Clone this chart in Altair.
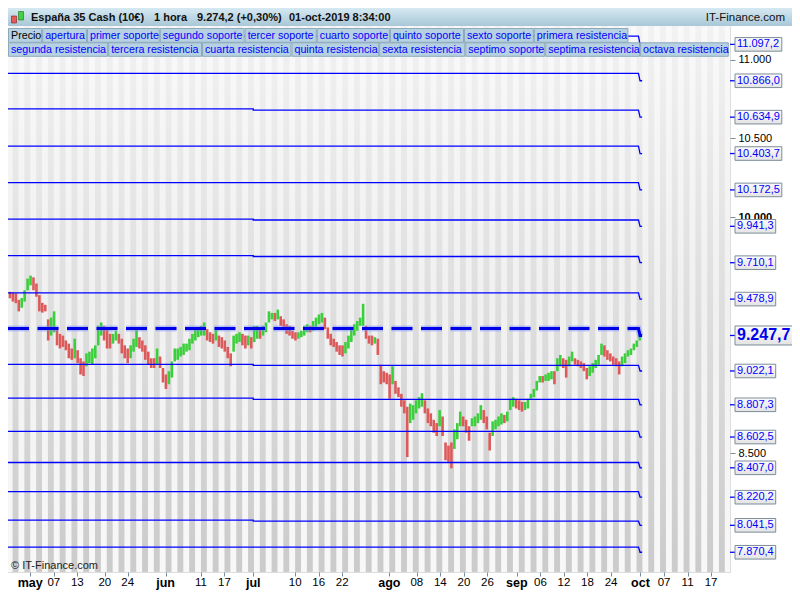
import altair as alt
import pandas as pd

# ---------------- data ----------------
header_parts = ["España 35 Cash (10€)", "1 hora", "9.274,2 (+0,30%)", "01-oct-2019 8:34:00"]
brand = "IT-Finance.com"
copyright_txt = "© IT-Finance.com"

legend_row1 = ["Precio", "apertura", "primer soporte", "segundo soporte", "tercer soporte",
               "cuarto soporte", "quinto soporte", "sexto soporte", "primera resistencia"]
legend_row2 = ["segunda resistencia", "tercera resistencia", "cuarta resistencia", "quinta resistencia",
               "sexta resistencia", "septimo soporte", "septima resistencia", "octava resistencia"]

# x axis: positions in trading-session units
tick_pos = [3, 7, 11, 15.67, 19.55, 26, 32, 36, 40.88, 48, 52, 56, 64, 68.67, 72.67, 76.67, 80.67,
            85.67, 89.67, 93.67, 97.67, 101.67, 106.67, 110.67, 114.67, 118.67]
tick_lab = ["may", "07", "13", "20", "24", "jun", "11", "17", "jul", "10", "16", "22", "ago", "08", "14",
            "20", "26", "sep", "06", "12", "18", "24", "oct", "07", "11", "17"]
months = ["may", "jun", "jul", "ago", "sep", "oct"]

# price blocks (half-session each): high / low
first_bar = -0.45
bar_step = 0.5
bar_hi = [9525, 9519, 9515, 9474, 9486, 9535, 9609, 9628, 9617, 9578, 9504, 9455, 9443, 9350, 9362, 9401,
          9301, 9258, 9247, 9216, 9196, 9165, 9227, 9154, 9103, 9083, 9134, 9145, 9165, 9185, 9309, 9330,
          9309, 9299, 9258, 9258, 9278, 9258, 9227, 9185, 9165, 9185, 9227, 9288, 9237, 9216, 9185, 9145,
          9103, 9103, 9165, 9114, 9041, 9000, 9021, 9083, 9165, 9165, 9175, 9196, 9196, 9227, 9258, 9288,
          9299, 9309, 9330, 9288, 9268, 9258, 9299, 9247, 9237, 9216, 9175, 9134, 9247, 9258, 9268, 9258,
          9247, 9247, 9237,
          9309, 9309, 9288, 9309, 9330, 9401, 9391, 9391, 9412, 9370, 9350, 9319, 9309, 9278, 9268, 9268,
          9278, 9309, 9319, 9309, 9340, 9361, 9381, 9391, 9361, 9299, 9258, 9227, 9206, 9185, 9185, 9206,
          9247, 9288, 9319, 9340, 9361, 9449, 9309, 9247, 9247, 9237, 9227, 9062, 9021, 9011, 9000, 9052,
          8959, 8918, 8877, 8836, 8795, 8815, 8805, 8836, 8856, 8881, 8836, 8784, 8753, 8712, 8691, 8774,
          8733, 8568, 8548,
          8568, 8651, 8691, 8764, 8733, 8712, 8671, 8722, 8733, 8753, 8805, 8774, 8733, 8630, 8702, 8712,
          8733, 8753, 8743, 8764, 8846, 8856, 8846, 8836, 8825, 8825, 8846, 8877, 8908, 8959, 8990, 8990,
          9000, 9011, 9021, 9021, 9103, 9124, 9103, 9093, 9114, 9145, 9103, 9093, 9083, 9072, 9041, 9052,
          9072, 9093, 9124, 9196, 9185, 9154, 9134, 9114, 9103, 9083, 9114, 9134, 9154, 9165, 9196, 9216,
          9268]
bar_lo = [9484, 9463, 9453, 9401, 9424, 9463, 9535, 9566, 9535, 9494, 9401, 9393, 9401, 9216, 9247, 9268,
          9185, 9165, 9175, 9154, 9103, 9093, 9103, 9072, 9000, 8990, 9052, 9072, 9062, 9103, 9185, 9247,
          9216, 9165, 9165, 9196, 9216, 9196, 9134, 9103, 9072, 9103, 9145, 9175, 9165, 9145, 9093, 9062,
          9041, 9041, 9062, 9041, 8949, 8908, 8938, 8980, 9083, 9093, 9114, 9124, 9145, 9154, 9196, 9216,
          9237, 9247, 9247, 9216, 9206, 9196, 9216, 9175, 9165, 9145, 9103, 9052, 9145, 9196, 9206, 9185,
          9165, 9185, 9165,
          9206, 9227, 9227, 9247, 9268, 9330, 9350, 9340, 9350, 9309, 9288, 9258, 9247, 9227, 9216, 9227,
          9237, 9247, 9268, 9268, 9278, 9299, 9319, 9330, 9288, 9227, 9185, 9175, 9145, 9124, 9114, 9134,
          9165, 9206, 9247, 9278, 9309, 9309, 9227, 9196, 9185, 9196, 9124, 8938, 8949, 8938, 8846, 8938,
          8877, 8856, 8795, 8753, 8475, 8691, 8712, 8753, 8784, 8795, 8753, 8691, 8671, 8630, 8609, 8671,
          8609, 8455, 8445,
          8404, 8527, 8589, 8671, 8671, 8630, 8579, 8671, 8671, 8691, 8712, 8691, 8651, 8517, 8609, 8651,
          8671, 8682, 8691, 8702, 8774, 8795, 8784, 8774, 8764, 8774, 8784, 8846, 8856, 8898, 8949, 8949,
          8959, 8959, 8969, 8938, 9021, 9052, 9041, 8980, 9052, 9083, 9062, 9052, 9041, 9021, 8969, 8990,
          9011, 9041, 9062, 9124, 9114, 9093, 9083, 9062, 9052, 9000, 9052, 9072, 9114, 9124, 9154, 9175,
          9216]

# quarterly pivot levels (Q2 = may-jun, Q3 = jul-sep, Q4 = oct)
jul_start = 40.88
oct_start = 106.6
oct_end = 106.95
level_q2 = [11149.4, 10913.6, 10687.6, 10450.6, 10218.5, 9987.6, 9755.6, 9518.5, 9291.4,
            9064.2, 8850.0, 8638.3, 8440.7, 8255.5, 8074.1, 7903.6]
level_q3 = [11149.4, 10913.6, 10679.0, 10450.6, 10218.5, 9981.5, 9749.4, 9518.5, 9291.4,
            9058.0, 8842.0, 8638.3, 8440.7, 8255.5, 8067.9, 7903.6]
level_q4 = [11097.2, 10866.0, 10634.9, 10403.7, 10172.5, 9941.3, 9710.1, 9478.9, 9247.7,
            9022.1, 8807.3, 8602.5, 8407.0, 8220.2, 8041.5, 7870.4]
pivot_idx = 8
axis_vals = [8500, 10000, 10500, 11000]

# ---------------- layout / style ----------------
W, H = 722, 546
PT, PB, PR = 18, 20, 62
TW = W + PR
XD = [-0.78, 121.88]
YD = [7745.0, 11214.0]
PX_PER_PT = H / (YD[1] - YD[0])
FONT = "Liberation Sans"
BLUE = "#0000ff"
GREEN = "#3ccf3c"
RED = "#dd5a5a"
FRAME = "#7b8d99"
LEG_FILL = "#b6d1e1"
LEG_STROKE = "#8ea9ba"

xs = alt.Scale(domain=XD, nice=False, zero=False)
ys = alt.Scale(domain=YD, nice=False, zero=False)
one = pd.DataFrame({"a": [1]})

XAXIS = alt.Axis(values=tick_pos, labels=False, ticks=True, tickSize=4, tickColor=FRAME,
                 domain=False, grid=False, title=None)
YAXIS = alt.Axis(orient="right", values=axis_vals, labelExpr="replace(format(datum.value, ','), ',', '.')",
                 tickSize=5, tickColor=FRAME, labelPadding=3, labelFontSize=11, labelColor="#000000",
                 labelFont=FONT, domain=False, grid=False, title=None,
                 labelFontWeight={"condition": {"test": "datum.value == 10000", "value": "bold"},
                                  "value": "normal"})


def X(f):
    return alt.X(f, scale=xs, axis=XAXIS)


def Y(f):
    return alt.Y(f, scale=ys, axis=YAXIS)


def vgrad(c1, c2, c3=None):
    stops = [{"offset": 0, "color": c1}]
    if c3 is not None:
        stops += [{"offset": 0.5, "color": c2}, {"offset": 1, "color": c3}]
    else:
        stops += [{"offset": 1, "color": c2}]
    return {"gradient": "linear", "x1": 0, "y1": 0, "x2": 0, "y2": 1, "stops": stops}


def es(v):
    s = f"{v:,.1f}"
    return s.replace(",", "X").replace(".", ",").replace("X", ".")


def num_width(txt, size):
    w = 0.0
    for ch in txt:
        w += 0.278 * size if ch in ".," else 0.556 * size
    return w


layers = []

# background + day stripes
layers.append(alt.Chart(one).mark_rect(fill=vgrad("#f9f9f9", "#f0f0f0", "#f8f8f8")).encode(
    x=alt.value(0), x2=alt.value(W), y=alt.value(0), y2=alt.value(H)))
stripes = pd.DataFrame({"s": [s for s in range(-2, 123) if s % 2 == 0]})
stripes["s2"] = stripes["s"] + 1
layers.append(alt.Chart(stripes).mark_rect(fill=vgrad("#f2f2f2", "#cbcbcb"), clip=True).encode(
    x=X("s:Q"), x2="s2:Q", y=alt.value(0), y2=alt.value(H)))

# price blocks
n = len(bar_hi)
assert n == len(bar_lo)
t = [first_bar + bar_step * i for i in range(n)]
mid = [(h + l) / 2 for h, l in zip(bar_hi, bar_lo)]
dirs = ["up" if i > 0 and mid[i] > mid[i - 1] else "down" for i in range(n)]
cdf = pd.DataFrame({"t": t, "hi": bar_hi, "lo": bar_lo, "d": dirs})
layers.append(alt.Chart(cdf).mark_rule(strokeWidth=2.6).encode(
    x=X("t:Q"), y=Y("lo:Q"), y2="hi:Q",
    color=alt.Color("d:N", scale=alt.Scale(domain=["up", "down"], range=[GREEN, RED]), legend=None)))

# level lines
rows, prow = [], []
for k, (a, b, c) in enumerate(zip(level_q2, level_q3, level_q4)):
    pts = [(XD[0], a), (jul_start, a), (jul_start, b), (oct_start - 0.27, b), (oct_start, c), (oct_end, c)]
    for o, (x, v) in enumerate(pts):
        (prow if k == pivot_idx else rows).append({"lvl": k, "o": o, "x": x, "v": v})
ldf = pd.DataFrame(rows)
pdf = pd.DataFrame(prow)
layers.append(alt.Chart(ldf).mark_line(color=BLUE, strokeWidth=1.3, clip=True).encode(
    x=X("x:Q"), y=Y("v:Q"), detail="lvl:N", order="o:Q"))
layers.append(alt.Chart(pdf).mark_line(color="#7a8cff", strokeWidth=6, opacity=0.45,
                                        strokeDash=[21, 8.5], clip=True).encode(
    x=X("x:Q"), y=Y("v:Q"), order="o:Q"))
layers.append(alt.Chart(pdf).mark_line(color="#0000e6", strokeWidth=3, strokeDash=[21, 8.5],
                                        clip=True).encode(
    x=X("x:Q"), y=Y("v:Q"), order="o:Q"))

# x-axis labels
tdf = pd.DataFrame({"pos": tick_pos, "lab": tick_lab})
tdf["m"] = tdf["lab"].isin(months)
layers.append(alt.Chart(tdf[tdf.m]).mark_text(fontWeight="bold", fontSize=12.5, font=FONT, color="#000000",
                                               baseline="middle").encode(
    x=X("pos:Q"), y=alt.value(H + 10.5), text="lab:N"))
layers.append(alt.Chart(tdf[~tdf.m]).mark_text(fontSize=11.5, font=FONT, color="#000000",
                                                baseline="middle").encode(
    x=X("pos:Q"), y=alt.value(H + 10.5), text="lab:N"))

# copyright
layers.append(alt.Chart(one).mark_text(text=copyright_txt, fontSize=11, font=FONT, color="#222222",
                                       align="left", baseline="middle").encode(
    x=alt.value(3), y=alt.value(H - 6)))

# legend rows
LEG_SCALE = 0.975
row_w1 = [35, 46, 74.7, 87, 74, 75, 76, 71.6, 97]
row_w2 = [102.7, 96.3, 91.7, 90, 88.3, 82, 97.3, 91]
for labels, widths, (y0, y1) in [(legend_row1, row_w1, (2.5, 16.3)), (legend_row2, row_w2, (16.8, 30.3))]:
    x0 = 0.0
    for lab, w in zip(labels, widths):
        w = w * LEG_SCALE
        layers.append(alt.Chart(one).mark_rect(fill=LEG_FILL, stroke=LEG_STROKE, strokeWidth=1, clip=True).encode(
            x=alt.value(x0 + 0.5), x2=alt.value(min(x0 + w - 0.5, W - 0.5)), y=alt.value(y0), y2=alt.value(y1)))
        layers.append(alt.Chart(one).mark_text(text=lab, fontSize=10.7, font=FONT, align="left",
                                               baseline="middle",
                                               color="#000000" if lab == "Precio" else "#0000ff",
                                               clip=True).encode(
            x=alt.value(x0 + 3), y=alt.value((y0 + y1) / 2 + 0.5)))
        x0 += w

# right-side level labels
lab = pd.DataFrame({"v": level_q4})
lab["txt"] = lab["v"].map(es)
layers.append(alt.Chart(lab).mark_rule(color=BLUE, strokeWidth=1.3).encode(
    x=alt.value(W), x2=alt.value(W + 5), y=Y("v:Q")))
for k, r in lab.iterrows():
    bold = k == pivot_idx
    size = 16 if bold else 11
    hh = 9.5 if bold else 6.8
    bw = num_width(r["txt"], size) * (1.05 if bold else 1.0) + 4
    box = pd.DataFrame({"lo": [r["v"] - hh / PX_PER_PT], "hi": [r["v"] + hh / PX_PER_PT]})
    layers.append(alt.Chart(box).mark_rect(fill=vgrad("#fbfbfb", "#e4e4e4"), stroke=FRAME, strokeWidth=1).encode(
        x=alt.value(W + 5), x2=alt.value(W + 5 + bw), y=Y("lo:Q"), y2="hi:Q"))
layers.append(alt.Chart(lab[lab.index != pivot_idx]).mark_text(fontSize=11, font=FONT, color="#0000ff",
                                                              align="left", baseline="middle").encode(
    x=alt.value(W + 7), y=Y("v:Q"), text="txt:N"))
layers.append(alt.Chart(lab[lab.index == pivot_idx]).mark_text(fontSize=16, fontWeight="bold", font=FONT,
                                                              color="#0000ee", align="left",
                                                              baseline="middle").encode(
    x=alt.value(W + 7), y=Y("v:Q"), text="txt:N"))

# header bar
layers.append(alt.Chart(one).mark_rect(fill=vgrad("#d6e9f2", "#a9c7d7")).encode(
    x=alt.value(0), x2=alt.value(TW), y=alt.value(-PT), y2=alt.value(0)))
layers.append(alt.Chart(one).mark_rect(fill="#e85a5a", stroke="#7a2020", strokeWidth=0.6).encode(
    x=alt.value(3.5), x2=alt.value(8.5), y=alt.value(-10), y2=alt.value(-3)))
layers.append(alt.Chart(one).mark_rect(fill="#44d044", stroke="#1f6f1f", strokeWidth=0.6).encode(
    x=alt.value(10.5), x2=alt.value(15.5), y=alt.value(-14.5), y2=alt.value(-6)))
for txt, xp in zip(header_parts, [23, 146, 189, 281]):
    layers.append(alt.Chart(one).mark_text(text=txt, fontSize=11, fontWeight="bold", font=FONT,
                                           color="#111111", align="left", baseline="middle").encode(
        x=alt.value(xp), y=alt.value(-8.5)))
layers.append(alt.Chart(one).mark_text(text=brand, fontSize=11.5, font=FONT, color="#111111",
                                       align="right", baseline="middle").encode(
    x=alt.value(TW - 7), y=alt.value(-8.5)))

chart = alt.layer(*layers).properties(
    width=W, height=H,
    padding={"left": 0, "top": PT, "right": PR, "bottom": PB},
    autosize=alt.AutoSizeParams(type="none"),
    background="#ffffff",
).configure_view(stroke=FRAME, strokeWidth=1).configure(font=FONT)

chart.save("out.html", embed_options={"renderer": "svg", "actions": False})
